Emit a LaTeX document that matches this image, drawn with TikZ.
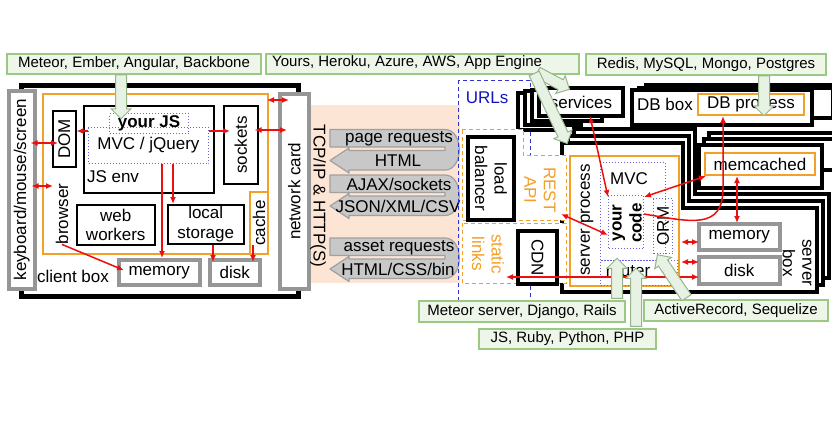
\documentclass[tikz,border=0pt]{standalone}
\usepackage{fontspec}
\setmainfont{Liberation Sans}
\usetikzlibrary{shapes.arrows,calc,arrows.meta}
\definecolor{gstroke}{RGB}{155,200,130}
\definecolor{gfill}{RGB}{238,246,234}
\definecolor{garrs}{RGB}{150,180,140}
\definecolor{garrf}{RGB}{232,242,228}
\definecolor{grayc}{RGB}{150,150,150}
\definecolor{orangec}{RGB}{243,160,40}
\definecolor{dotblue}{RGB}{100,100,220}
\definecolor{dashblue}{RGB}{50,50,210}
\definecolor{urlblue}{RGB}{20,20,190}
\definecolor{redc}{RGB}{235,15,15}
\definecolor{peach}{RGB}{252,229,213}
\definecolor{uturnf}{RGB}{200,200,200}
\definecolor{uturns}{RGB}{160,160,160}
\newcommand\mybox[7]{\node[#1, anchor=north west, minimum width={#5-#3}, minimum height={#6-#4}] (#2) at (#3,#4) {#7};}
\newcommand\garrow[2]{\path let \p1=(#1), \p2=(#2), \n1={veclen(\x2-\x1,\y2-\y1)} in (#1) -- (#2) node[garr, midway, sloped, allow upside down, minimum height=\n1] {};}
\newcommand\uturnarrow[4]{%
\begin{scope}[yshift={-#2pt}]
\path[uturnst] (330,17.5) -- (330,0) -- (445,0) .. controls (464,0) and (464,40.5) .. (445,40.5) -- (349,40.5) -- (349,43.5) -- (330,31) -- (349,18.5) -- (349,21) -- (445,21) -- (445,17.5) -- cycle;
\node (#1a) at (399,9.5) {#3};
\node (#1b) at (398,31.5) {#4};
\end{scope}}
\begin{document}
\begin{tikzpicture}[x=1pt,y=-1pt,
  every node/.style={font=\fontsize{17}{19.5}\selectfont, inner sep=0pt},
  blk/.style={draw=black, line width=4pt, fill=white},
  thinb/.style={draw=black, line width=1.5pt, fill=white},
  gry/.style={draw=grayc, line width=3.5pt, fill=white},
  org/.style={draw=orangec, line width=2pt, fill=white},
  dotb/.style={draw=dotblue, line width=1pt, dash pattern=on 1pt off 2pt},
  orgdash/.style={draw=orangec, line width=1pt, dash pattern=on 4pt off 3pt, fill=white},
  gbox/.style={draw=gstroke, fill=gfill, line width=2pt, font=\fontsize{15}{17}\selectfont},
  gtext/.style={font=\fontsize{15}{17}\selectfont},
  uturnst/.style={draw=uturns, fill=uturnf, line width=1.2pt, line join=round},
  garr/.style={single arrow, draw=garrs, fill=garrf, line width=1pt, inner xsep=0pt, inner ysep=5pt, single arrow head extend=4.5pt, single arrow tip angle=90},
  rarr/.style={draw=redc, line width=1.5pt, -{Latex[length=7pt,width=6pt]}},
  rdbl/.style={draw=redc, line width=1.5pt, {Latex[length=7pt,width=6pt]}-{Latex[length=7pt,width=6pt]}},
  orgtext/.style={text=orangec, align=center},
]
\useasboundingbox (0,0) rectangle (832,444);
\fill[white] (0,0) rectangle (832,444);
% peach band
\fill[peach] (308,105) rectangle (460,283);
% top green labels
\mybox{gbox}{g1}{6}{53}{260}{73}{Meteor, Ember, Angular, Backbone}
\mybox{gbox}{g2}{265}{53}{578}{73}{}
\node[gtext, anchor=west] (g2t) at (272,63) {Yours, Heroku, Azure, AWS, App Engine};
\mybox{gbox}{g3}{585}{53}{825}{74}{Redis, MySQL, Mongo, Postgres}
% ---------------- client ----------------
\mybox{blk, line width=4.5pt}{client}{19}{83}{296}{294}{}
\mybox{gry}{kbd}{7}{89}{33}{287}{}
\node[rotate=90] (kbdt) at (kbd) {keyboard/mouse/screen};
\mybox{org}{browser}{42}{93}{267}{253}{}
\mybox{thinb}{dom}{52}{110}{75}{166}{}
\node[rotate=90] (domt) at (dom) {DOM};
\mybox{thinb}{jsenv}{83}{105}{213}{192}{}
\mybox{dotb}{mvc}{88}{127}{208}{163}{MVC / jQuery}
\mybox{dotb}{yourjs}{109}{113}{188}{133}{\bfseries your JS}
\node (jsenvt) at (113,177) {JS env};
\mybox{thinb}{sockets}{223}{105}{257}{183}{}
\node[rotate=90] (sockt) at (sockets) {sockets};
\mybox{thinb, align=center}{ww}{76}{204}{154}{244}{web\\workers}
\mybox{thinb, align=center}{ls}{167}{204}{243}{243}{local\\storage}
\mybox{org}{cache}{249}{191}{267}{253}{}
\node[rotate=90] (cachet) at (cache) {cache};
\node[rotate=90] (browsert) at (62,214) {browser};
\mybox{gry}{cmem}{117}{258}{198}{283}{memory}
\mybox{gry}{cdisk}{208}{258}{258}{283}{disk}
\node (clientt) at (73,276) {client box};
\mybox{gry}{net}{278}{92}{307}{287}{}
\node[rotate=90] (nett) at (net) {network card};
% ---------------- wire ----------------
\node[rotate=-90] (tcp) at (318,196) {TCP/IP \& HTTP(S)};
\uturnarrow{u1}{129.5}{page requests}{HTML}
\uturnarrow{u2}{175}{AJAX/sockets}{JSON/XML/CSV}
\uturnarrow{u3}{238}{asset requests}{HTML/CSS/bin}
% ---------------- server side ----------------
\draw[draw=dashblue, line width=1pt, dash pattern=on 4pt off 3pt] (458,80) rectangle (530,310);
\node[text=urlblue] (urls) at (487,98) {URLs};
% services stack
\foreach \k in {3,2,1} {\mybox{blk}{svc\k}{537-7*\k}{86+1.5*\k}{621-7*\k}{114+1.5*\k}{}}
\mybox{blk}{services}{537}{86}{621}{114}{services}
% DB stack
\foreach \k in {2,1} {\mybox{blk}{db\k}{630+7*\k}{88-2.5*\k}{810+7*\k}{123-2.5*\k}{}}
\mybox{blk}{dbbox}{630}{88}{810}{123}{}
\node (dbboxt) at (665,104) {DB box};
\mybox{org}{dbproc}{697}{93}{803}{114}{DB process}
% server stack
\foreach \k in {2,1,0} {\draw[blk, xshift={6pt*\k}, yshift={7pt*\k}] (562,143) -- (683,143) -- (683,208) -- (817,208) -- (817,292) -- (562,292) -- cycle;}
% memcached stack
\foreach \k in {2,1} {\mybox{blk}{mc\k}{697+5*\k}{143-6*\k}{820+5*\k}{186-6*\k}{}}
\mybox{blk}{mcbox}{697}{143}{820}{186}{}
\mybox{org}{memcached}{704}{152}{814}{174}{memcached}
% REST API and static links regions
\draw[orgdash] (462,129) -- (523,129) -- (523,155) -- (566,155) -- (566,220) -- (462,220) -- cycle;
\draw[orgdash] (462,223) rectangle (566,283);
\node[orgtext, rotate=-90] (restt) at (540,190) {REST\\API};
\node[orgtext, rotate=-90] (statt) at (488,254) {static\\links};
\mybox{blk}{lb}{466}{135}{512}{218}{}
\node[rotate=-90, align=center] (lbt) at (lb) {load\\balancer};
\mybox{blk}{cdn}{516}{229}{555}{282}{}
\node[rotate=-90] (cdnt) at (cdn) {CDN};
% server process
\mybox{org}{sp}{569}{155}{678}{285}{}
\node[rotate=90] (spt) at (587,220) {server process};
\mybox{dotb}{svmvc}{600}{162}{665}{260}{}
\node (mvct) at (629,179) {MVC};
\mybox{dotb}{code}{608}{195}{643}{248}{}
\node[rotate=90, align=center, font=\fontsize{17}{20}\selectfont\bfseries] (codet) at (627,223) {your\\code};
\mybox{dotb}{orm}{653}{198}{672}{253}{}
\node[rotate=90] (ormt) at (orm) {ORM};
\mybox{dotb}{router}{600}{260}{677}{285}{}
\node (routert) at (628,271) {router};
\mybox{gry}{smem}{697}{222}{778}{248}{memory}
\mybox{gry}{sdisk}{697}{255}{778}{282}{disk}
\node[rotate=-90, align=center] (sboxt) at (797,263) {server\\box};
% bottom green labels
\mybox{gbox}{g4}{418}{300}{624}{321}{Meteor server, Django, Rails}
\mybox{gbox}{g5}{478}{328}{655}{348}{JS, Ruby, Python, PHP}
\mybox{gbox}{g6}{643}{299}{827}{320}{ActiveRecord, Sequelize}
% ---------------- red connectors: client ----------------
\draw[rdbl] ([xshift=-2pt]browser.east |- 0,100) -- ([xshift=11pt]net.west |- 0,100);
\draw[rdbl] ([xshift=-4pt]sockets.east |- 0,130) -- ([xshift=9pt]net.west |- 0,130);
\draw[rarr] (mvc.east |- 0,131) -- ([xshift=7pt]sockets.west |- 0,131);
\draw[rarr] (mvc.west |- 0,131) -- (dom.east |- 0,131);
\draw[rdbl] ([xshift=-6pt]kbd.east |- 0,143) -- ([xshift=6pt]dom.west |- 0,143);
\draw[rdbl] ([xshift=-5pt]kbd.east |- 0,186) -- ([xshift=11pt]browser.west |- 0,186);
\draw[rarr] (mvc.south -| 173,0) -- (ls.north -| 173,0);
\draw[rarr] (mvc.south -| 162,0) -- (cmem.north -| 162,0);
\draw[rarr] (browsert.west) -- ([xshift=7pt,yshift=2pt]cmem.west);
\draw[rarr] (ls.south -| 213,0) -- ([yshift=-4pt]cdisk.north -| 213,0);
\draw[rarr] ([yshift=10pt]cache.south -| 253,0) -- ([yshift=-4pt]cdisk.north -| 253,0);
% ---------------- red connectors: server ----------------
\coordinate (restpt) at (561,214);
\coordinate (statpt) at (506,277);
\draw[rdbl] ([xshift=9pt,yshift=2pt]services.south) -- ([yshift=-2pt]code.north west);
\draw[rdbl] ([xshift=2pt]memcached.south west) -- ([yshift=-2pt]code.north east);
\draw[rarr] ([yshift=8pt]code.east) .. controls (692,222) and (723,230) .. (723,188) -- (dbproc.south -| 723,0);
\draw[rdbl] (memcached.south -| 737,0) -- ([yshift=-1pt]smem.north -| 737,0);
\draw[rdbl] ([xshift=8pt]orm.east |- 0,242) -- ([xshift=2pt]smem.west |- 0,242);
\draw[rdbl] ([xshift=8pt]orm.east |- 0,262) -- ([xshift=2pt]sdisk.west |- 0,262);
\draw[rdbl] (restpt) -- (code.west |- 0,235);
\draw[rdbl] (statpt) -- ([xshift=2pt]sdisk.west |- 0,277);
% ---------------- green block arrows ----------------
\coordinate (ga1) at (121,72);  \coordinate (gb1) at (121,116);
\coordinate (ga2) at (535,71);  \coordinate (gb2) at (567,88);
\coordinate (ga3) at (533,71);  \coordinate (gb3) at (566,141);
\coordinate (ga4) at (764,73);  \coordinate (gb4) at (764,113);
\coordinate (ga5) at (617,301); \coordinate (gb5) at (617,261);
\coordinate (ga6) at (636,329); \coordinate (gb6) at (636,271);
\coordinate (ga7) at (688,300); \coordinate (gb7) at (659,257);
\garrow{ga1}{gb1}
\garrow{ga2}{gb2}
\garrow{ga3}{gb3}
\garrow{ga4}{gb4}
\garrow{ga5}{gb5}
\garrow{ga6}{gb6}
\garrow{ga7}{gb7}
\end{tikzpicture}
\end{document}
